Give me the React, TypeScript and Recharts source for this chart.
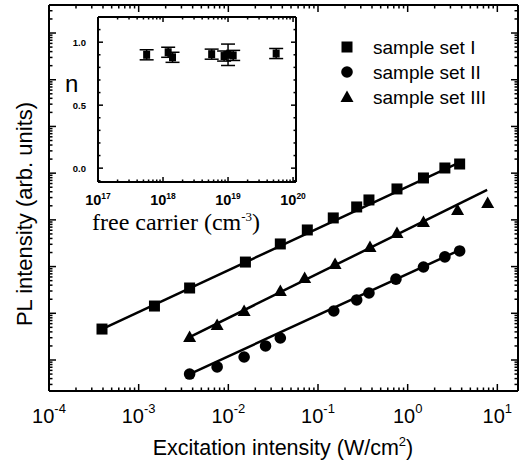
import React from "react";
import { ScatterChart, Scatter, XAxis, YAxis, ErrorBar, Legend } from "recharts";

// main panel: PL intensity vs excitation intensity (W/cm^2)
const setIExc = [3.9e-4, 1.5e-3, 3.7e-3, 0.0155, 0.038, 0.076, 0.148, 0.27, 0.37, 0.76, 1.5, 2.6, 3.8];
const setIPL = [4.6, 14.3, 34.8, 125, 305, 608, 1100, 1890, 2670, 4590, 7890, 12900, 15700];

const setIIExc = [3.7e-3, 7.5e-3, 0.015, 0.026, 0.038, 0.15, 0.27, 0.37, 0.74, 1.5, 2.6, 3.8];
const setIIPL = [0.5, 0.71, 1.16, 2.0, 2.96, 11.2, 19.3, 27.2, 54, 98, 161, 216];

const setIIIExc = [3.7e-3, 7.5e-3, 0.015, 0.038, 0.071, 0.155, 0.38, 0.76, 1.5, 3.6, 7.8];
const setIIIPL = [3.1, 5.6, 11.2, 30, 57, 114, 263, 525, 900, 1630, 2300];

// power-law fit lines (end points)
const fitIExc = [3.9e-4, 3.8];
const fitIPL = [4.6, 17000];
const fitIIExc = [3.7e-3, 3.8];
const fitIIPL = [0.5, 226];
const fitIIIExc = [3.7e-3, 7.7];
const fitIIIPL = [3.1, 4370];

// inset: exponent n vs free carrier concentration (cm^-3)
const insetConc = [5.6e17, 1.2e18, 1.4e18, 5.6e18, 8.7e18, 1.0e19, 1.2e19, 5.5e19];
const insetN = [0.9, 0.92, 0.88, 0.905, 0.89, 0.9, 0.895, 0.91];
const insetErr = [0.04, 0.04, 0.04, 0.04, 0.04, 0.085, 0.04, 0.04];
const insetYTicks = [-0.1, 0, 0.1, 0.2, 0.3, 0.4, 0.5, 0.6, 0.7, 0.8, 0.9, 1.0, 1.1];

const legendLabels = ["sample set I", "sample set II", "sample set III"];

const MAIN_X = [1e-4, 17];
const MAIN_Y = [0.217, 3.98e7];
const INSET_X = [1e17, 1.11e20];
const INSET_Y = [-0.11, 1.2];

const pts = (xs: number[], ys: number[], es?: number[]) =>
  xs.map((x, i) => ({ x, y: ys[i], err: es ? es[i] : 0 }));

const logTicks = (lo: number, hi: number) => {
  const out: number[] = [];
  for (let e = Math.floor(Math.log10(lo)); e <= Math.ceil(Math.log10(hi)); e++)
    for (let m = 1; m < 10; m++) {
      const v = m * Math.pow(10, e);
      if (v >= lo * 0.999 && v <= hi * 1.001) out.push(v);
    }
  return out;
};
const isDecade = (v: number) => {
  const l = Math.log10(v);
  return Math.abs(l - Math.round(l)) < 1e-9;
};

const mainXTicks = logTicks(MAIN_X[0], MAIN_X[1]);
const mainYTicks = logTicks(MAIN_Y[0], MAIN_Y[1]);
const insetXTicks = logTicks(INSET_X[0], INSET_X[1]);

const SANS = "'Liberation Sans', Arial, sans-serif";
const SERIF = "'Liberation Serif', 'Times New Roman', serif";

function mark(side: string, x: number, y: number, len: number) {
  const d: Record<string, number[]> = { bottom: [0, -len], top: [0, len], left: [len, 0], right: [-len, 0] };
  const [dx, dy] = d[side];
  return <line x1={x} y1={y} x2={x + dx} y2={y + dy} stroke="#000" strokeWidth={1.5} />;
}

const logTick = (side: string, labelled: boolean) => (props: any) => {
  const { x, y, payload } = props;
  const major = isDecade(payload.value);
  return (
    <g>
      {mark(side, x, y, major ? 7 : 3.5)}
      {labelled && major && (
        <text x={x} y={y + 32} textAnchor="middle" fontSize={20} fontFamily={SANS} fill="#000">
          10<tspan dy={-10} fontSize={13}>{Math.round(Math.log10(payload.value))}</tspan>
        </text>
      )}
    </g>
  );
};

const insetXTick = (side: string, labelled: boolean) => (props: any) => {
  const { x, y, payload } = props;
  const major = isDecade(payload.value);
  return (
    <g>
      {mark(side, x, y, major ? 5 : 2.5)}
      {labelled && major && (
        <text x={x} y={y + 23} textAnchor="middle" fontSize={14.5} fontWeight="bold" fontFamily={SANS} fill="#000">
          10<tspan dy={-6} fontSize={8.5}>{Math.round(Math.log10(payload.value))}</tspan>
        </text>
      )}
    </g>
  );
};

const insetYTick = (side: string, labelled: boolean) => (props: any) => {
  const { x, y, payload } = props;
  const v = payload.value;
  const major = Math.abs(v * 2 - Math.round(v * 2)) < 1e-6;
  return (
    <g>
      {mark(side, x, y, major ? 5 : 2.5)}
      {labelled && major && (
        <text x={x - 12} y={y + 3.5} textAnchor="end" fontSize={9.5} fontWeight="bold" fontFamily={SANS} fill="#000">
          {v.toFixed(1)}
        </text>
      )}
    </g>
  );
};

const Square = (p: any) => <rect x={p.cx - 5.5} y={p.cy - 5.5} width={11} height={11} fill="#000" />;
const Dot = (p: any) => <circle cx={p.cx} cy={p.cy} r={5.8} fill="#000" />;
const Tri = (p: any) => (
  <polygon points={`${p.cx},${p.cy - 6.5} ${p.cx + 6.5},${p.cy + 5} ${p.cx - 6.5},${p.cy + 5}`} fill="#000" />
);
const NoMark = () => <g />;
const InsetSquare = (p: any) => <rect x={p.cx - 3.5} y={p.cy - 4} width={7} height={8} fill="#000" />;

const legendShapes = [Square, Dot, Tri];

function LegendBox() {
  return (
    <svg width={180} height={82}>
      {legendLabels.map((t, i) => {
        const Shape = legendShapes[i];
        return (
          <g key={t}>
            <Shape cx={9} cy={17 + i * 25} />
            <text x={35} y={24 + i * 25} fontSize={19} fontFamily={SANS} fill="#000">
              {t}
            </text>
          </g>
        );
      })}
    </svg>
  );
}

// axis titles (drawn at fixed spots, label props ignored)
const xTitle = () => (
  <text x={283} y={455} textAnchor="middle" fontSize={21.5} fontFamily={SANS} fill="#000">
    Excitation intensity (W/cm<tspan dy={-9} fontSize={13}>2</tspan><tspan dy={9}>)</tspan>
  </text>
);
const yTitle = () => (
  <text x={32} y={214} transform="rotate(-90 32 214)" textAnchor="middle" fontSize={22} fontFamily={SANS} fill="#000">
    PL intensity (arb. units)
  </text>
);
const insetXTitle = () => (
  <text x={52} y={230} fontSize={24} fontFamily={SERIF} fill="#000">
    free carrier (cm<tspan dy={-9} fontSize={13}>-3</tspan><tspan dy={9}>)</tspan>
  </text>
);
const insetYTitle = () => (
  <text x={25} y={92} fontSize={24} fontFamily={SANS} fill="#000">n</text>
);

const axisLine = { stroke: "#000", strokeWidth: 2 };
const fitLine = { stroke: "#000", strokeWidth: 2.5 };

export default function App() {
  return (
    <div style={{ position: "absolute", left: 0, top: 0, width: 520, height: 468, background: "#fff", fontFamily: SANS }}>
      <ScatterChart width={520} height={468} margin={{ top: 0, right: 0, bottom: 0, left: 0 }}>
        <XAxis xAxisId="b" dataKey="x" type="number" scale="log" domain={MAIN_X} allowDataOverflow ticks={mainXTicks}
          interval={0} height={77} tickSize={0} tickMargin={0} tickLine={false} axisLine={axisLine} tick={logTick("bottom", true)}
          label={{ value: "Excitation intensity", content: xTitle }} />
        <XAxis xAxisId="t" orientation="top" dataKey="x" type="number" scale="log" domain={MAIN_X} allowDataOverflow ticks={mainXTicks}
          interval={0} height={5} tickSize={0} tickMargin={0} tickLine={false} axisLine={axisLine} tick={logTick("top", false)} />
        <YAxis yAxisId="l" dataKey="y" type="number" scale="log" domain={MAIN_Y} allowDataOverflow ticks={mainYTicks}
          interval={0} width={49} tickSize={0} tickMargin={0} tickLine={false} axisLine={axisLine} tick={logTick("left", false)}
          label={{ value: "PL intensity", content: yTitle }} />
        <YAxis yAxisId="r" orientation="right" dataKey="y" type="number" scale="log" domain={MAIN_Y} allowDataOverflow ticks={mainYTicks}
          interval={0} width={2} tickSize={0} tickMargin={0} tickLine={false} axisLine={axisLine} tick={logTick("right", false)} />
        <Legend layout="vertical" align="center" verticalAlign="middle" wrapperStyle={{ left: 338, top: 30, width: 180 }} content={() => <LegendBox />} />
        <Scatter xAxisId="b" yAxisId="l" data={pts(fitIExc, fitIPL)} line={fitLine} shape={NoMark} legendType="none" isAnimationActive={false} />
        <Scatter xAxisId="b" yAxisId="l" data={pts(fitIIExc, fitIIPL)} line={fitLine} shape={NoMark} legendType="none" isAnimationActive={false} />
        <Scatter xAxisId="b" yAxisId="l" data={pts(fitIIIExc, fitIIIPL)} line={fitLine} shape={NoMark} legendType="none" isAnimationActive={false} />
        <Scatter xAxisId="b" yAxisId="l" name="sample set I" data={pts(setIExc, setIPL)} shape={Square} isAnimationActive={false} />
        <Scatter xAxisId="b" yAxisId="l" name="sample set II" data={pts(setIIExc, setIIPL)} shape={Dot} isAnimationActive={false} />
        <Scatter xAxisId="b" yAxisId="l" name="sample set III" data={pts(setIIIExc, setIIIPL)} shape={Tri} isAnimationActive={false} />
      </ScatterChart>

      <div style={{ position: "absolute", left: 40, top: 0 }}>
        <ScatterChart width={275} height={240} margin={{ top: 0, right: 0, bottom: 0, left: 0 }}>
          <XAxis xAxisId="b" dataKey="x" type="number" scale="log" domain={INSET_X} allowDataOverflow ticks={insetXTicks}
            interval={0} height={58} tickSize={0} tickMargin={0} tickLine={false} axisLine={axisLine} tick={insetXTick("bottom", true)}
            label={{ value: "free carrier", content: insetXTitle }} />
          <XAxis xAxisId="t" orientation="top" dataKey="x" type="number" scale="log" domain={INSET_X} allowDataOverflow ticks={insetXTicks}
            interval={0} height={17} tickSize={0} tickMargin={0} tickLine={false} axisLine={axisLine} tick={insetXTick("top", false)} />
          <YAxis yAxisId="l" dataKey="y" type="number" domain={INSET_Y} allowDataOverflow ticks={insetYTicks}
            interval={0} width={58} tickSize={0} tickMargin={0} tickLine={false} axisLine={axisLine} tick={insetYTick("left", true)}
            label={{ value: "n", content: insetYTitle }} />
          <YAxis yAxisId="r" orientation="right" dataKey="y" type="number" domain={INSET_Y} allowDataOverflow ticks={insetYTicks}
            interval={0} width={19} tickSize={0} tickMargin={0} tickLine={false} axisLine={axisLine} tick={insetYTick("right", false)} />
          <Scatter xAxisId="b" yAxisId="l" data={pts(insetConc, insetN, insetErr)} shape={InsetSquare} isAnimationActive={false}>
            <ErrorBar dataKey="err" direction="y" width={7} stroke="#000" strokeWidth={1.5} isAnimationActive={false} />
          </Scatter>
        </ScatterChart>
      </div>
    </div>
  );
}
